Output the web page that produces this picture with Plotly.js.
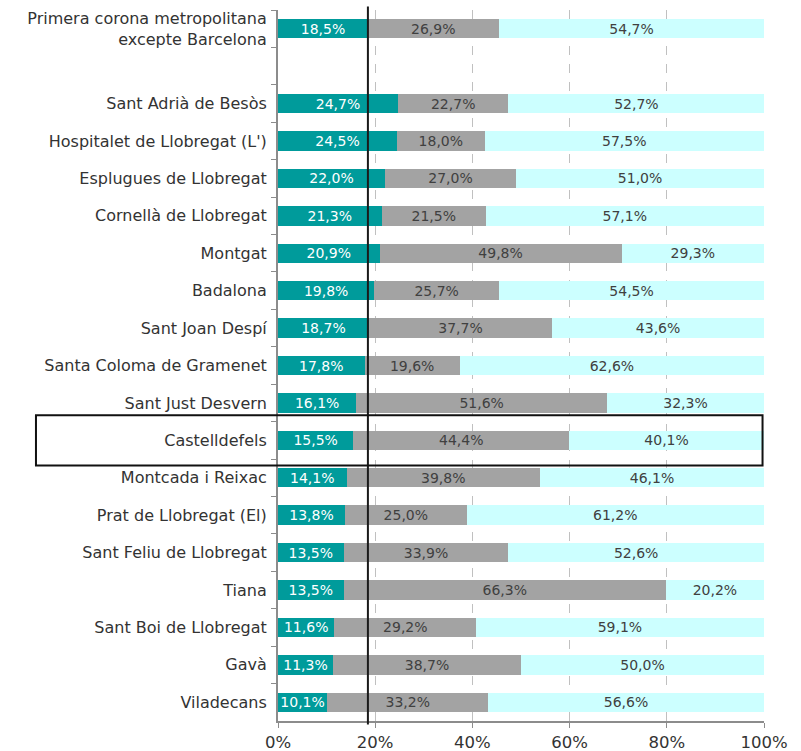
<!DOCTYPE html>
<html>
<head>
<meta charset="utf-8">
<script src="https://cdn.plot.ly/plotly-3.0.1.min.js"></script>
<style>html,body{margin:0;padding:0;background:#fff;}#chart{width:801px;height:751px;}</style>
</head>
<body>
<div id="chart"></div>
<script>
const categories = [
  "Primera corona metropolitana<br>excepte Barcelona",
  " ",
  "Sant Adrià de Besòs",
  "Hospitalet de Llobregat (L')",
  "Esplugues de Llobregat",
  "Cornellà de Llobregat",
  "Montgat",
  "Badalona",
  "Sant Joan Despí",
  "Santa Coloma de Gramenet",
  "Sant Just Desvern",
  "Castelldefels",
  "Montcada i Reixac",
  "Prat de Llobregat (El)",
  "Sant Feliu de Llobregat",
  "Tiana",
  "Sant Boi de Llobregat",
  "Gavà",
  "Viladecans"
];
const seriesTeal = [18.5, null, 24.7, 24.5, 22.0, 21.3, 20.9, 19.8, 18.7, 17.8, 16.1, 15.5, 14.1, 13.8, 13.5, 13.5, 11.6, 11.3, 10.1];
const seriesGray = [26.9, null, 22.7, 18.0, 27.0, 21.5, 49.8, 25.7, 37.7, 19.6, 51.6, 44.4, 39.8, 25.0, 33.9, 66.3, 29.2, 38.7, 33.2];
const seriesCyan = [54.7, null, 52.7, 57.5, 51.0, 57.1, 29.3, 54.5, 43.6, 62.6, 32.3, 40.1, 46.1, 61.2, 52.6, 20.2, 59.1, 50.0, 56.6];
const xTicks = [0, 20, 40, 60, 80, 100];
const highlighted = "Castelldefels";

const fmt = v => v == null ? "" : v.toFixed(1).replace(".", ",") + "%";
const FONT = "DejaVu Sans, Verdana, sans-serif";

function mk(vals, color, txtColor) {
  return {
    type: "bar", orientation: "h",
    x: vals, y: categories,
    marker: {color: color, line: {width: 0}},
    text: vals.map(fmt),
    textposition: "inside",
    insidetextanchor: "middle",
    constraintext: "none",
    textfont: {family: FONT, size: 14, color: txtColor},
    width: 0.52,
    hoverinfo: "skip"
  };
}

const data = [
  mk(seriesTeal, "#009b9b", "#ffffff"),
  mk(seriesGray, "#a3a3a3", "#404040"),
  mk(seriesCyan, "#ccffff", "#404040")
];

const hi = categories.indexOf(highlighted);

const layout = {
  width: 801, height: 751,
  margin: {l: 278, r: 37, t: 10, b: 30},
  barmode: "stack",
  bargap: 0.48,
  showlegend: false,
  paper_bgcolor: "#ffffff",
  plot_bgcolor: "#ffffff",
  font: {family: FONT, color: "#333333"},
  xaxis: {
    range: [0, 100],
    tickvals: xTicks,
    ticktext: xTicks.map(v => v + "%"),
    tickfont: {family: FONT, size: 16.5, color: "#333333"},
    showgrid: true, gridcolor: "#c0c0c0", griddash: "dash", gridwidth: 1,
    showline: true, linecolor: "#8c8c8c", linewidth: 2,
    ticks: "outside", ticklen: 5, tickcolor: "#8c8c8c",
    zeroline: false, fixedrange: true
  },
  yaxis: {
    type: "category",
    categoryorder: "array", categoryarray: categories,
    autorange: "reversed",
    tickfont: {family: FONT, size: 16, color: "#333333"},
    showline: true, linecolor: "#8c8c8c", linewidth: 2,
    ticks: "outside", ticklen: 5, tickcolor: "#8c8c8c",
    tickson: "boundaries",
    ticklabelstandoff: 6,
    showgrid: false, zeroline: false, fixedrange: true
  },
  shapes: [
    {type: "line", xref: "x", yref: "paper", x0: seriesTeal[0], x1: seriesTeal[0], y0: -0.005, y1: 1.005,
     line: {color: "#1a1a1a", width: 2}},
    {type: "rect", xref: "paper", yref: "y", x0: -0.498, x1: 0.997, y0: hi - 0.67, y1: hi + 0.67,
     line: {color: "#111111", width: 2}, fillcolor: "rgba(0,0,0,0)"}
  ]
};

Plotly.newPlot("chart", data, layout, {displayModeBar: false, staticPlot: true});
</script>
</body>
</html>
